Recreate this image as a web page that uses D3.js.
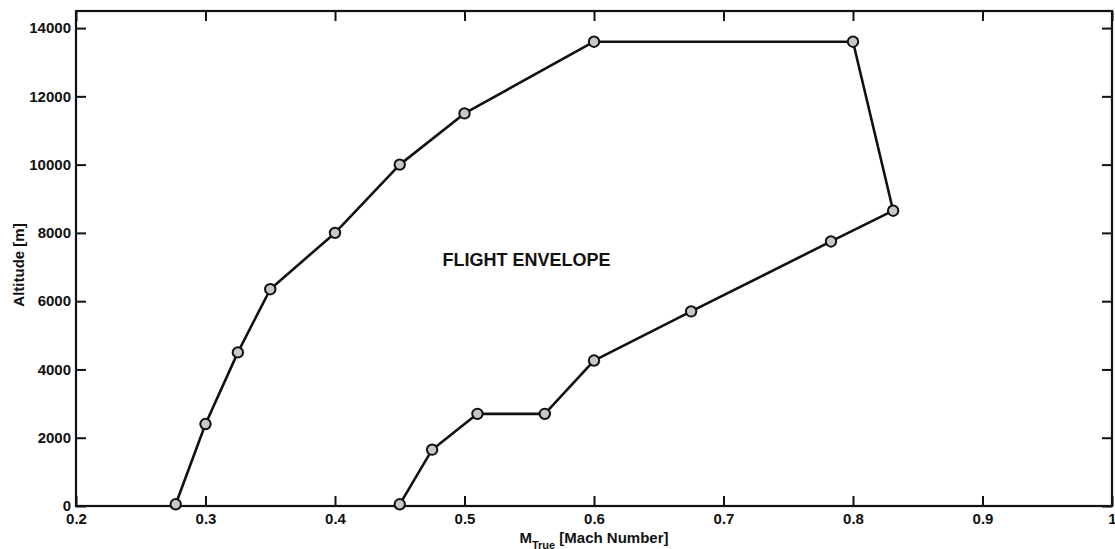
<!DOCTYPE html>
<html>
  <head>
    <meta charset="utf-8">
    <title>Flight envelope</title>
    <script src="https://d3js.org/d3.v7.min.js"></script>
    <style>
      body { margin: 0; background: #fff; }
      svg text { font-family: "Liberation Sans", Arial, sans-serif; font-weight: bold; fill: #111; }
      .tick-label { font-size: 15px; }
    </style>
  </head>
  <body>
    <svg id="chart" width="1115" height="549"></svg>
    <script>
      // envelope boundary, traced in order (left edge up, ceiling, right edge down)
      var machValues = [0.277, 0.3, 0.325, 0.35, 0.4, 0.45, 0.5, 0.6, 0.8, 0.831, 0.783, 0.675, 0.6, 0.562, 0.51, 0.475, 0.45];
      var altitudeValues = [50, 2400, 4500, 6350, 8000, 10000, 11500, 13600, 13600, 8650, 7750, 5700, 4260, 2700, 2700, 1650, 50];
      var xTicks = [0.2, 0.3, 0.4, 0.5, 0.6, 0.7, 0.8, 0.9, 1];
      var xTickLabels = ["0.2", "0.3", "0.4", "0.5", "0.6", "0.7", "0.8", "0.9", "1"];
      var yTicks = [0, 2000, 4000, 6000, 8000, 10000, 12000, 14000];

      var margin = { top: 11, right: 3, bottom: 43, left: 76 };
      var width = 1115, height = 549;
      var svg = d3.select("#chart");
      var x = d3.scaleLinear()
        .domain([0.2, 1])
        .range([margin.left, width - margin.right]);
      var y = d3.scaleLinear()
        .domain([0, 14500])
        .range([height - margin.bottom, margin.top]);

      // axes: ticks point inward on all four sides
      svg.append("g")
        .attr("transform", "translate(0," + y(0) + ")")
        .call(d3.axisBottom(x).tickValues(xTicks).tickSize(-10).tickPadding(7).tickFormat(function(d, i) { return xTickLabels[i]; }));
      svg.append("g")
        .attr("transform", "translate(0," + y.range()[1] + ")")
        .call(d3.axisTop(x).tickValues(xTicks).tickSize(-10).tickFormat(""));
      svg.append("g")
        .attr("transform", "translate(" + x(0.2) + ",0)")
        .call(d3.axisLeft(y).tickValues(yTicks).tickSize(-10).tickPadding(5).tickFormat(d3.format("d")));
      svg.append("g")
        .attr("transform", "translate(" + x(1) + ",0)")
        .call(d3.axisRight(y).tickValues(yTicks).tickSize(-10).tickFormat(""));
      svg.selectAll(".domain").remove();
      svg.selectAll(".tick line").attr("stroke", "#111").attr("stroke-width", 2);
      svg.selectAll(".tick text").attr("class", "tick-label").attr("fill", "#111");

      // frame
      svg.append("rect")
        .attr("x", x(0.2))
        .attr("y", y.range()[1])
        .attr("width", x(1) - x(0.2))
        .attr("height", y(0) - y.range()[1])
        .attr("fill", "none")
        .attr("stroke", "#111")
        .attr("stroke-width", 2.2);

      // envelope line and markers
      var points = machValues.map(function(d, i) { return [d, altitudeValues[i]]; });
      var line = d3.line()
        .x(function(d) { return x(d[0]); })
        .y(function(d) { return y(d[1]); });
      svg.append("path")
        .datum(points)
        .attr("d", line)
        .attr("fill", "none")
        .attr("stroke", "#111")
        .attr("stroke-width", 2.6)
        .attr("stroke-linejoin", "round");
      svg.selectAll(".marker")
        .data(points)
        .enter().append("circle")
          .attr("class", "marker")
          .attr("cx", function(d) { return x(d[0]); })
          .attr("cy", function(d) { return y(d[1]); })
          .attr("r", 5.2)
          .attr("fill", "#c8c8c8")
          .attr("stroke", "#111")
          .attr("stroke-width", 2);

      // labels
      svg.append("text")
        .attr("x", x(0.483))
        .attr("y", y(7040))
        .style("font-size", "18px")
        .text("FLIGHT ENVELOPE");
      var xLabel = svg.append("text")
        .attr("x", (x(0.2) + x(1)) / 2)
        .attr("y", 543)
        .attr("text-anchor", "middle")
        .style("font-size", "15px");
      xLabel.append("tspan").text("M");
      xLabel.append("tspan").attr("dy", 6).style("font-size", "11px").text("True");
      xLabel.append("tspan").attr("dy", -6).text(" [Mach Number]");
      svg.append("text")
        .attr("transform", "translate(24," + 265 + ") rotate(-90)")
        .attr("text-anchor", "middle")
        .style("font-size", "15px")
        .text("Altitude [m]");
    </script>
  </body>
</html>
